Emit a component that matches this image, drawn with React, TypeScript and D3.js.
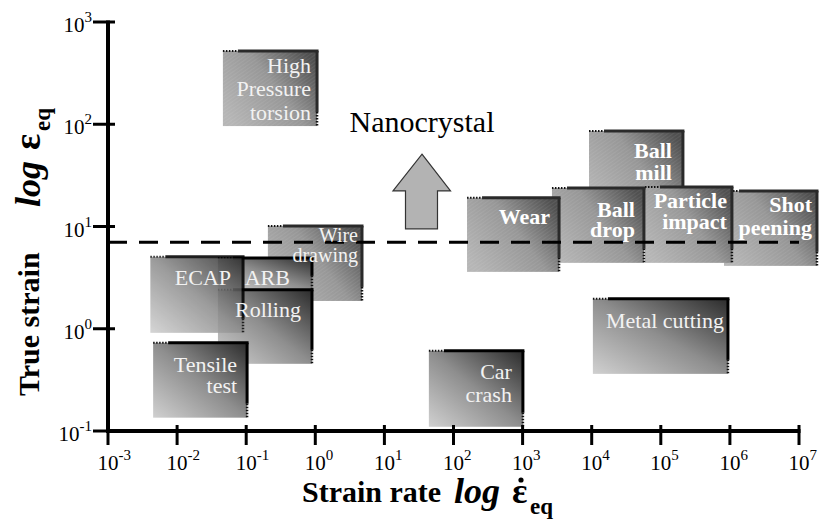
import React from 'react';
import * as d3 from 'd3';

// ---------- data (strain rate in 1/s, true strain) ----------
const processNames = [
  'Ball mill', 'Shot peening', 'Particle impact', 'Ball drop', 'Wear',
  'High Pressure torsion', 'Wire drawing', 'ARB', 'Rolling', 'ECAP',
  'Tensile test', 'Car crash', 'Metal cutting',
];
const labelLines = [
  ['Ball', 'mill'], ['Shot', 'peening'], ['Particle', 'impact'], ['Ball', 'drop'], ['Wear'],
  ['High', 'Pressure', 'torsion'], ['Wire', 'drawing'], ['ARB'], ['Rolling'], ['ECAP'],
  ['Tensile', 'test'], ['Car', 'crash'], ['Metal cutting'],
];
const rateMin = [9140, 822000, 59000, 2660, 157, 0.046, 0.206, 0.039, 0.039, 0.0041, 0.0045, 44, 10400];
const rateMax = [209000, 18200000, 1070000, 57000, 3370, 1.06, 4.74, 0.895, 0.895, 0.09, 0.103, 1010, 937000];
const strainMin = [15.8, 4.12, 4.41, 4.41, 3.6, 96, 1.87, 2.4, 0.454, 0.912, 0.135, 0.11, 0.362];
const strainMax = [85.9, 22.3, 24.4, 23.8, 19.1, 521, 10.1, 4.93, 2.4, 5.05, 0.728, 0.608, 1.96];
const nanoThreshold = 7.0;
const xTickValues = [1e-3, 1e-2, 1e-1, 1e0, 1e1, 1e2, 1e3, 1e4, 1e5, 1e6, 1e7];
const xTickExp = ['-3', '-2', '-1', '0', '1', '2', '3', '4', '5', '6', '7'];
const yTickValues = [1e-1, 1e0, 1e1, 1e2, 1e3];
const yTickExp = ['-1', '0', '1', '2', '3'];
const arrowTipRate = 35;
const arrowTipStrain = 51;
const arrowHeadStrain = 22.3;
const arrowBaseStrain = 9.5;

// ---------- styles ----------
const textured = [true, true, true, true, true, true, true, false, false, false, false, false, false];
const boldLabel = [true, true, true, true, true, false, false, false, false, false, false, false, false];
const labelRightPad = [11, 5, 5, 9, 9, 6, 4, 22, 11, 12, 10, 11, 4];
const labelTopPad = [27, 21, 21, 29, 26, 22, 16, 27, 27, 28, 29, 28, 29];
const labelLineH = [22, 23, 21, 20, 22, 23.5, 20, 22, 22, 22, 21, 23, 22];
const labelSize = [22, 22, 22, 22, 22, 22, 20, 22, 22, 22, 22, 22, 22];
const boxOpacity = [1, 1, 1, 1, 1, 1, 1, 1, 1, 0.88, 1, 1, 1];

const W = 822;
const H = 525;
const serif = 'Liberation Serif';

export default function App() {
  const x = d3.scaleLog().domain([1e-3, 1e7]).range([108, 799]);
  const y = d3.scaleLog().domain([0.1, 1000]).range([431, 22]);

  const boxes = processNames.map((name, i) => {
    const x0 = x(rateMin[i]);
    const x1 = x(rateMax[i]);
    const y0 = y(strainMax[i]);
    const y1 = y(strainMin[i]);
    return { name, i, x0, x1, y0, y1 };
  });

  const tipX = x(arrowTipRate);
  const tipY = y(arrowTipStrain);
  const headY = y(arrowHeadStrain);
  const baseY = y(arrowBaseStrain);
  const arrowPts = [
    [tipX, tipY],
    [tipX + 28.5, headY],
    [tipX + 15.5, headY],
    [tipX + 15.5, baseY],
    [tipX - 16.5, baseY],
    [tipX - 16.5, headY],
    [tipX - 29, headY],
  ].map((p) => p.join(',')).join(' ');

  const fs = (size: number, extra: any = {}) => ({ fontFamily: serif, fontSize: size + 'px', ...extra });
  const bold = (size: number, extra: any = {}) => fs(size, { fontWeight: 'bold', ...extra });

  return (
    <svg width={W} height={H} style={{ position: 'absolute', left: 0, top: 0, background: '#fff', fontFamily: serif }}>
      <defs>
        <linearGradient id="gSmooth" x1="0" y1="1" x2="1" y2="0">
          <stop offset="0" stopColor="#d0d0d0" />
          <stop offset="0.5" stopColor="#8e8e8e" />
          <stop offset="1" stopColor="#2c2c2c" />
        </linearGradient>
        <linearGradient id="gTex" x1="0" y1="0.8" x2="1" y2="0.2">
          <stop offset="0" stopColor="#b6b6b6" />
          <stop offset="0.55" stopColor="#979797" />
          <stop offset="1" stopColor="#505050" />
        </linearGradient>
        <pattern id="hatch" patternUnits="userSpaceOnUse" width="3" height="3" patternTransform="rotate(55)">
          <line x1="0" y1="0" x2="0" y2="3" stroke="#ffffff" strokeOpacity="0.13" strokeWidth="1" />
        </pattern>
      </defs>

      {/* boxes */}
      {boxes.map((b) => (
        <g key={b.name} opacity={boxOpacity[b.i]}>
          <rect x={b.x0} y={b.y0} width={b.x1 - b.x0} height={b.y1 - b.y0}
            fill={textured[b.i] ? 'url(#gTex)' : 'url(#gSmooth)'} />
          {textured[b.i] && (
            <rect x={b.x0} y={b.y0} width={b.x1 - b.x0} height={b.y1 - b.y0} fill="url(#hatch)" />
          )}
          <line x1={b.x0} x2={b.x0 + 15} y1={b.y0} y2={b.y0} stroke="#111" strokeWidth={2} strokeDasharray="1.5,1.5" />
          <line x1={b.x0 + 15} x2={b.x1 + 1.5} y1={b.y0} y2={b.y0} stroke={textured[b.i] ? '#2a2a2a' : '#000'} strokeWidth={3} />
          <line x1={b.x1} x2={b.x1} y1={b.y0} y2={b.y1 - 14} stroke={textured[b.i] ? '#2a2a2a' : '#000'} strokeWidth={3} />
          <line x1={b.x1} x2={b.x1} y1={b.y1 - 14} y2={b.y1} stroke="#111" strokeWidth={2.5} strokeDasharray="1.5,1.5" />
        </g>
      ))}

      {/* dashed nanocrystal threshold */}
      <line x1={x(1e-3)} x2={x(1e7)} y1={y(nanoThreshold)} y2={y(nanoThreshold)}
        stroke="#000" strokeWidth={3} strokeDasharray="19,12" />

      {/* labels */}
      {boxes.map((b) => (
        <text key={'t' + b.name} style={fs(labelSize[b.i], { fontWeight: boldLabel[b.i] ? 'bold' : 'normal' })}
          fill={boldLabel[b.i] ? '#ffffff' : '#f2f2f2'} textAnchor="end">
          {labelLines[b.i].map((ln, k) => (
            <tspan key={k} x={b.x1 - labelRightPad[b.i]} y={b.y0 + labelTopPad[b.i] + k * labelLineH[b.i]}>{ln}</tspan>
          ))}
        </text>
      ))}

      {/* arrow + Nanocrystal */}
      <polygon points={arrowPts} fill="#b3b3b3" stroke="#333" strokeWidth={1.2} />
      <text x={tipX} y={132} textAnchor="middle" style={fs(30)}>Nanocrystal</text>

      {/* axes */}
      <line x1={x(1e-3)} x2={x(1e-3)} y1={y(1000) - 1.5} y2={y(0.1) + 2} stroke="#000" strokeWidth={4} />
      <line x1={x(1e-3) - 2} x2={x(1e7) + 1.5} y1={y(0.1)} y2={y(0.1)} stroke="#000" strokeWidth={4} />
      {xTickValues.map((v, i) => (
        <g key={'xt' + i}>
          <line x1={x(v)} x2={x(v)} y1={y(0.1) - 6} y2={y(0.1) + 14} stroke="#000" strokeWidth={3} />
          <text x={x(v) - 10.5} y={470} style={fs(21)}>
            10<tspan dy={-10} style={{ fontSize: '15px' }}>{xTickExp[i]}</tspan>
          </text>
        </g>
      ))}
      {yTickValues.map((v, i) => (
        <g key={'yt' + i}>
          <line x1={x(1e-3) - 15} x2={x(1e-3) + 7} y1={y(v)} y2={y(v)} stroke="#000" strokeWidth={3} />
          <text x={92} y={y(v) + 10} style={fs(21)} textAnchor="end">
            10<tspan dy={-10} style={{ fontSize: '15px' }}>{yTickExp[i]}</tspan>
          </text>
        </g>
      ))}

      {/* x axis title */}
      <text x={302} y={502} style={bold(30)}>Strain rate</text>
      <text x={454} y={503} style={bold(36, { fontStyle: 'italic' })}>log</text>
      <text x={512} y={503} style={bold(36)}>ε</text>
      <circle cx={521} cy={480} r={2.6} fill="#000" />
      <text x={530} y={514} style={bold(23)}>eq</text>

      {/* y axis title */}
      <g transform="translate(39,0) rotate(-90)">
        <text x={-396} y={0} style={bold(30)}>True strain</text>
        <text x={-207} y={1} style={bold(36, { fontStyle: 'italic' })}>log</text>
        <text x={-150} y={1} style={bold(38)}>ε</text>
        <text x={-131} y={11} style={bold(23)}>eq</text>
      </g>
    </svg>
  );
}
